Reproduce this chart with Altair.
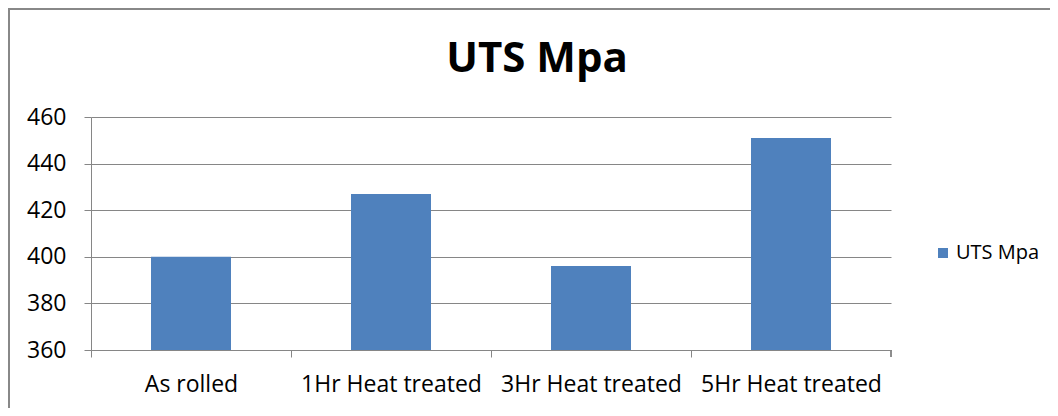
import altair as alt
import pandas as pd

categories = ["As rolled", "1Hr Heat treated", "3Hr Heat treated", "5Hr Heat treated"]
values = [400, 427, 396, 451]
series = "UTS Mpa"
title_text = "UTS Mpa"
y_ticks = [360, 380, 400, 420, 440, 460]

df = pd.DataFrame({"cat": categories, "val": values, "series": [series] * len(categories)})

FONT = "Open Sans"
GRID = "#868686"

bars = alt.Chart(df).mark_bar(color="#4F81BD", clip=True).encode(
    x=alt.X("cat:N", sort=categories, title=None,
            scale=alt.Scale(paddingInner=0.6, paddingOuter=0.3),
            axis=alt.Axis(labelAngle=0, labelFontSize=23, labelFont=FONT, labelColor="#000",
                          labelLimit=400, tickSize=7, tickColor=GRID, domainColor=GRID,
                          tickOffset=-100, labelOffset=100, labelPadding=16, grid=False)),
    y=alt.Y("val:Q", title=None,
            scale=alt.Scale(domain=[360, 460], nice=False, zero=False),
            axis=alt.Axis(values=y_ticks, labelFontSize=23, labelFont=FONT, labelColor="#000",
                          tickSize=7, tickColor=GRID, domainColor=GRID, gridColor=GRID,
                          labelPadding=18, grid=True)),
    fill=alt.Fill("series:N", scale=alt.Scale(range=["#4F81BD"]),
                  legend=alt.Legend(title=None, orient="none", legendX=842, legendY=126,
                                    symbolType="square", symbolSize=100, symbolStrokeWidth=0,
                                    labelFont=FONT, labelFontSize=20, labelColor="#000",
                                    labelOffset=3, labelLimit=300)),
)

end_tick = alt.Chart(df).mark_rule(color=GRID).encode(
    x=alt.value(800), y=alt.value(233), y2=alt.value(240)
)

border = alt.Chart(df).mark_rect(fill=None, stroke="#888888", strokeWidth=2).encode(
    x=alt.value(-82), x2=alt.value(1200), y=alt.value(-108), y2=alt.value(500)
)

title = alt.Chart(pd.DataFrame({"t": [title_text]})).mark_text(
    font=FONT, fontSize=42, fontWeight="bold", color="#000", align="center", baseline="alphabetic"
).encode(text="t:N", x=alt.value(446), y=alt.value(-45))

chart = alt.layer(border, bars, end_tick, title).properties(
    width=800, height=233,
    padding={"left": 83, "top": 109, "right": 159, "bottom": 58},
    autosize=alt.AutoSizeParams(type="none"),
).configure_view(stroke=None).configure_axisY(domain=True)

chart.save("out.html", embed_options={"renderer": "svg", "actions": False})
